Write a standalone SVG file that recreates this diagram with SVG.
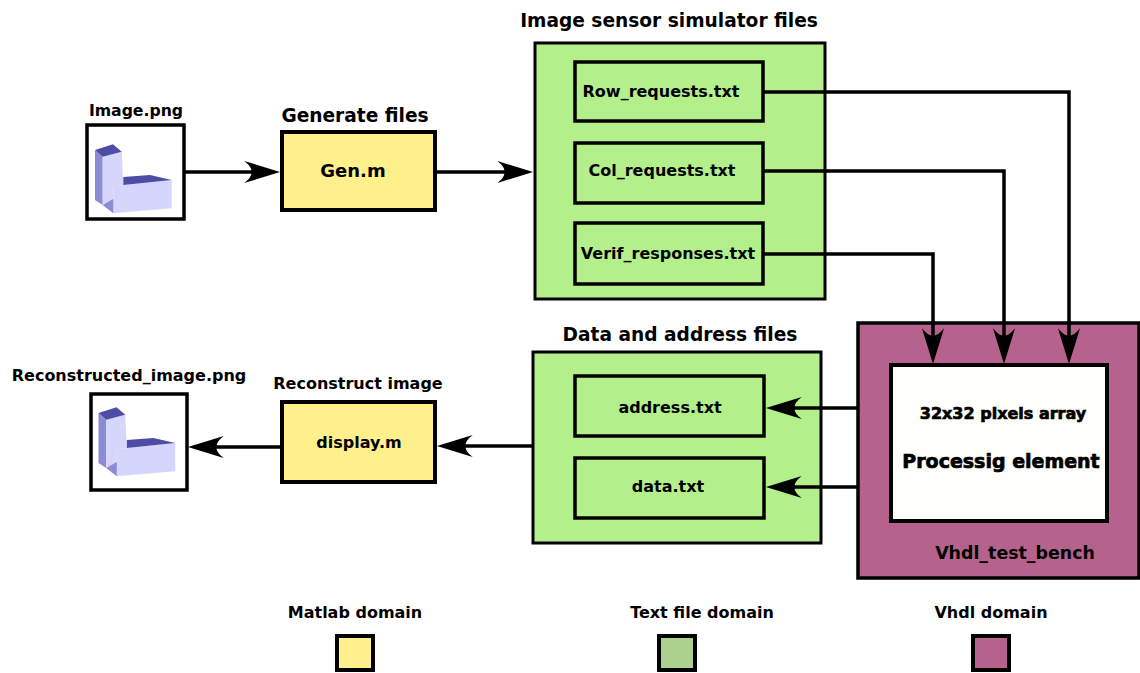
<svg xmlns="http://www.w3.org/2000/svg" width="1140" height="673" viewBox="0 0 1140 673">
  <defs>
    <style>
      text { font-family: "DejaVu Sans", "Liberation Sans", sans-serif; font-weight: bold; fill: #000; text-anchor: middle; }
      .title { font-size: 18.6px; }
      .label { font-size: 16px; }
      .heavy { stroke: #000; stroke-width: 0.7px; }
      .matlab { fill: #fff08c; stroke: #000; stroke-width: 4; }
      .txtgrp { fill: #b3f08c; stroke: #000; stroke-width: 3; }
      .txtfile { fill: #b3f08c; stroke: #000; stroke-width: 3.5; }
      .vhdl { fill: #b5628c; stroke: #000; stroke-width: 3.5; }
      .pe { fill: #fefefa; stroke: #000; stroke-width: 4; }
      .frame { fill: #fff; stroke: #000; stroke-width: 3.5; }
      .wire { fill: none; stroke: #000; stroke-width: 3.5; marker-end: url(#head); }
      .dark { fill: #4d4da6; }
      .mid { fill: #8c8cd6; }
      .light { fill: #d6d6fd; }
    </style>
    <marker id="head" markerUnits="userSpaceOnUse" markerWidth="40" markerHeight="30" viewBox="-16 -12 38 24" refX="0" refY="0" orient="auto" overflow="visible">
      <path d="M20,0 L-14,-10.5 Q0,0 -14,10.5 Z" fill="#000"/>
    </marker>
    <!-- L-shaped block icon -->
    <g id="lblock">
      <path class="mid" d="M95,150 L102.7,156.7 L102.7,205 L95,200 Z"/>
      <path class="light" d="M102.7,156.7 L121.7,151.7 L123.3,185 L113.3,186.5 L113.3,213.3 L102.7,205 Z"/>
      <path class="light" d="M113.3,186.5 L123.3,185 L171.7,180 L171.7,208.3 L113.3,213.3 Z"/>
      <path class="dark" d="M95,150 L113,144.3 L121.7,151.7 L102.7,156.7 Z"/>
      <path class="dark" d="M123.3,177 L150,175 L171.7,180 L123.3,185 Z"/>
      <path class="mid" d="M102.7,205 L113.3,199 L113.3,213.3 Z"/>
    </g>
  </defs>

  <rect width="1140" height="673" fill="#fff"/>

  <!-- source image -->
  <g id="image-png">
    <text x="136" y="116" style="font-size:15.7px">Image.png</text>
    <rect class="frame" x="87" y="125" width="97" height="94"/>
    <use href="#lblock"/>
  </g>

  <!-- generator script -->
  <g id="gen-m">
    <text class="title" x="355" y="122">Generate files</text>
    <rect class="matlab" x="282" y="132" width="153" height="78"/>
    <text x="353" y="177" style="font-size:18px">Gen.m</text>
  </g>

  <!-- sensor simulator files -->
  <g id="sensor-files">
    <text class="title" x="669" y="27">Image sensor simulator files</text>
    <rect class="txtgrp" x="535" y="43" width="290" height="256"/>
  </g>
  <g id="row-requests">
    <rect class="txtfile" x="575" y="62" width="188" height="59"/>
    <text class="label" x="661" y="97">Row_requests.txt</text>
  </g>
  <g id="col-requests">
    <rect class="txtfile" x="575" y="143" width="188" height="60"/>
    <text class="label" x="662" y="176">Col_requests.txt</text>
  </g>
  <g id="verif-responses">
    <rect class="txtfile" x="575" y="223" width="188" height="61"/>
    <text class="label" x="668" y="259">Verif_responses.txt</text>
  </g>

  <!-- VHDL test bench -->
  <g id="vhdl-test-bench">
    <rect class="vhdl" x="858" y="323" width="281" height="255"/>
    <text x="1015" y="559" style="font-size:17.4px">Vhdl_test_bench</text>
  </g>
  <g id="processing-element">
    <rect class="pe" x="891" y="365" width="216" height="156"/>
    <text class="label heavy" x="1003" y="419">32x32 pixels array</text>
    <text class="heavy" x="1001" y="468" style="font-size:19px">Processig element</text>
  </g>

  <!-- output files -->
  <g id="output-files">
    <text class="title" x="680" y="341">Data and address files</text>
    <rect class="txtgrp" x="533" y="352" width="288" height="191"/>
  </g>
  <g id="address-txt">
    <rect class="txtfile" x="575" y="376" width="189" height="60"/>
    <text class="label" x="670" y="413">address.txt</text>
  </g>
  <g id="data-txt">
    <rect class="txtfile" x="575" y="458" width="189" height="60"/>
    <text class="label" x="668" y="492">data.txt</text>
  </g>

  <!-- display script -->
  <g id="display-m">
    <text class="label" x="358" y="389">Reconstruct image</text>
    <rect class="matlab" x="282" y="402" width="153" height="80"/>
    <text class="label" x="359" y="448">display.m</text>
  </g>

  <!-- reconstructed image -->
  <g id="reconstructed-image">
    <text class="label" x="129" y="381">Reconstructed_image.png</text>
    <rect class="frame" x="91" y="394" width="96" height="96"/>
    <use href="#lblock" transform="translate(3.5,263)"/>
  </g>

  <!-- connectors -->
  <g id="connectors">
    <path class="wire" d="M185,172 H259"/>
    <path class="wire" d="M436,172 H512"/>
    <path class="wire" d="M763,92 H1069 V343"/>
    <path class="wire" d="M763,171 H1004 V343"/>
    <path class="wire" d="M763,254 H933 V343"/>
    <path class="wire" d="M857,408 H787"/>
    <path class="wire" d="M857,487 H787"/>
    <path class="wire" d="M533,446 H458"/>
    <path class="wire" d="M280,447 H209"/>
  </g>

  <!-- legend -->
  <g id="legend-matlab">
    <text class="label" x="355" y="618">Matlab domain</text>
    <rect class="matlab" x="337" y="636" width="36" height="34"/>
  </g>
  <g id="legend-text">
    <text class="label" x="702" y="618">Text file domain</text>
    <rect style="fill:#acd08e;stroke:#000;stroke-width:4" x="659" y="636" width="36" height="34"/>
  </g>
  <g id="legend-vhdl">
    <text class="label" x="991" y="618">Vhdl domain</text>
    <rect class="vhdl" style="stroke-width:4" x="973" y="636" width="36" height="34"/>
  </g>
</svg>
